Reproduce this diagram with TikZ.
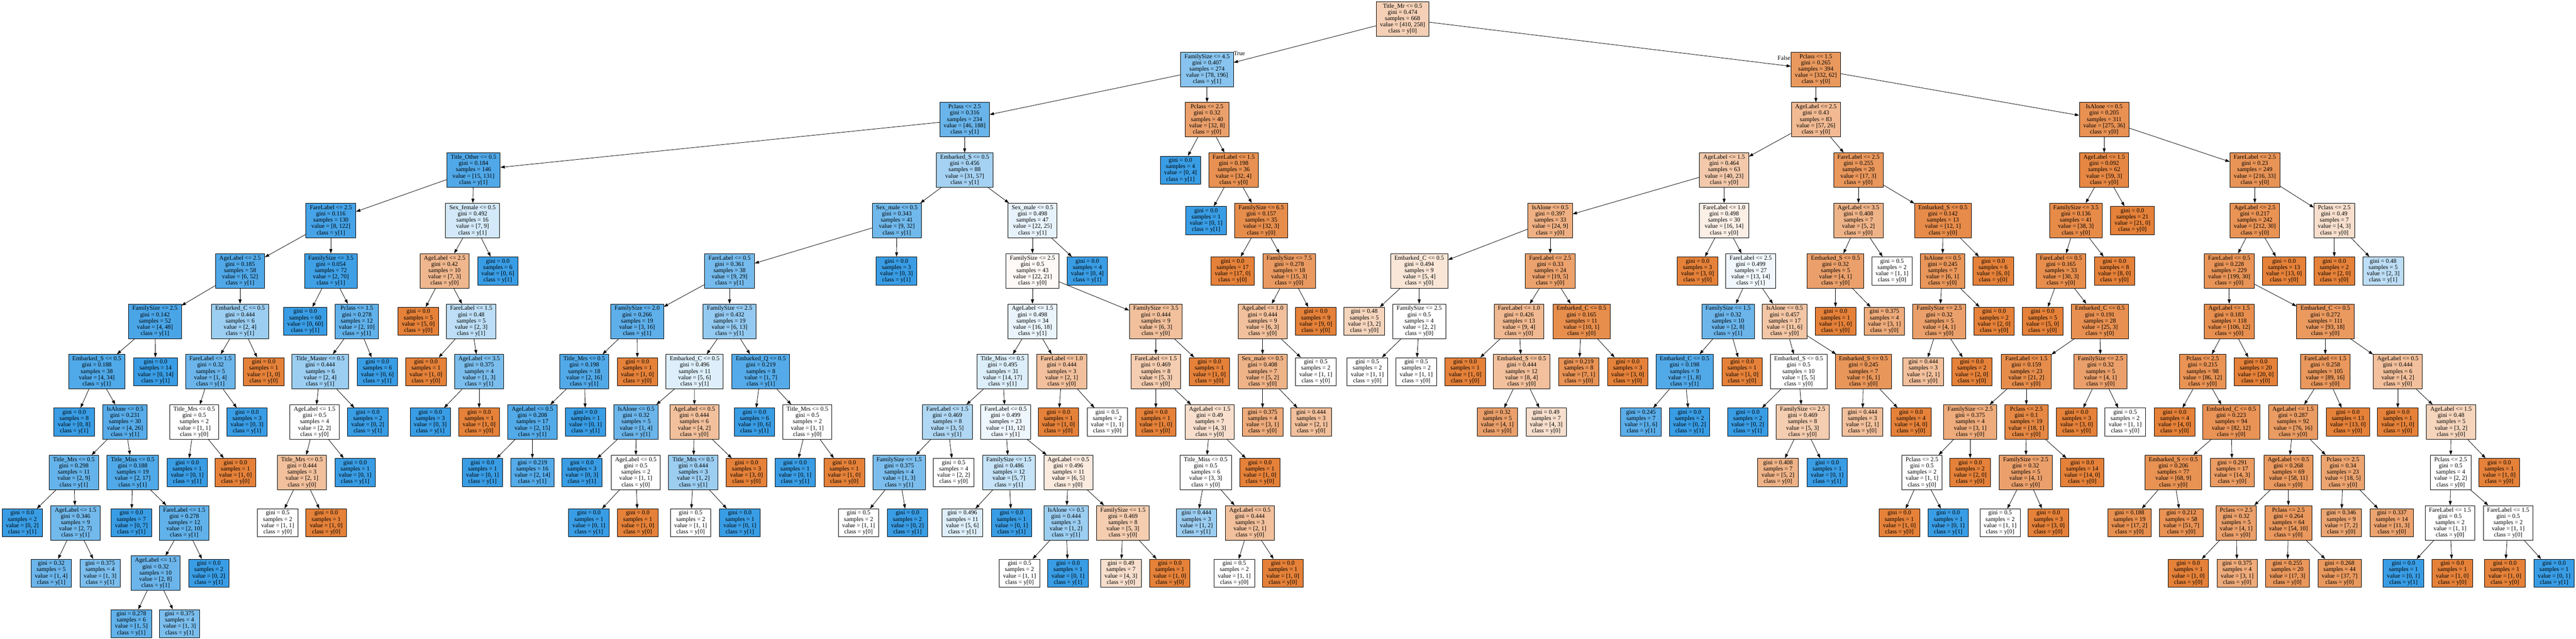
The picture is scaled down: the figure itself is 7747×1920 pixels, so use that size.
\documentclass[tikz,border=0pt]{standalone}
\usepackage{fontspec}
\setmainfont{Liberation Serif}
\usepackage{tikz}
\usetikzlibrary{arrows.meta}
\usepackage{xcolor}
\definecolor{leftcls}{RGB}{229,129,57}
\definecolor{rightcls}{RGB}{57,157,229}

\newcommand{\dtfont}{\fontsize{5.2pt}{5.37pt}\selectfont}
\tikzset{
  dtbox/.style={draw=black, line width=0.35pt, rectangle, align=center, font=\dtfont, inner xsep=0.115cm, inner ysep=1.65pt},
  dtedge/.style={line width=0.35pt, -{Triangle[length=0.13cm, width=0.09cm]}},
  dtlbl/.style={font=\dtfont, inner sep=0pt}
}
% name, parent, x, level, split line, gini, value y[0], value y[1]
\newcommand{\dtnode}[8]{%
  \ifnum#7<#8\relax
    \pgfmathsetmacro\dtshade{100*(1-#7/#8)}\def\dtcls{1}\def\dtcol{rightcls}%
  \else
    \pgfmathsetmacro\dtshade{100*(1-#8/#7)}\def\dtcls{0}\def\dtcol{leftcls}%
  \fi
  \node[dtbox, fill=\dtcol!\dtshade!white] (#1) at (#3,{57+151.5*#4})
    {#5gini = #6\\samples = \the\numexpr#7+#8\relax\\value = [#7, #8]\\class = y[\dtcls]};
  \if\relax\detokenize{#2}\relax\else\draw[dtedge] (#2) -- (#1);\fi
}

\begin{document}
\begin{tikzpicture}[x=0.01cm, y=-0.01cm]
\useasboundingbox (0,0) rectangle (7747,1920);
\fill[white] (0,0) rectangle (7747,1920);

% Root
\dtnode{N}{}{4218}{0}{Title\_Mr <= 0.5\\}{0.474}{410}{258}
\node[dtlbl] (lblTrue) at (3727,161) {True};
\node[dtlbl] (lblFalse) at (5365,175) {False};

% True branch
\dtnode{NL}{N}{3630}{1}{FamilySize <= 4.5\\}{0.407}{78}{196}
\dtnode{NLL}{NL}{2901}{2}{Pclass <= 2.5\\}{0.316}{46}{188}
\dtnode{NLR}{NL}{3630}{2}{Pclass <= 2.5\\}{0.32}{32}{8}

% Title_Other subtree
\dtnode{NLLL}{NLL}{1424}{3}{Title\_Other <= 0.5\\}{0.184}{15}{131}
\dtnode{NLLLL}{NLLL}{995}{4}{FareLabel <= 2.5\\}{0.116}{8}{122}
\dtnode{NLLLR}{NLLL}{1421}{4}{Sex\_female <= 0.5\\}{0.492}{7}{9}
\dtnode{NLLLLL}{NLLLL}{722}{5}{AgeLabel <= 2.5\\}{0.185}{6}{52}
\dtnode{NLLLLR}{NLLLL}{995}{5}{FamilySize <= 3.5\\}{0.054}{2}{70}
\dtnode{NLLLRL}{NLLLR}{1337}{5}{AgeLabel <= 2.5\\}{0.42}{7}{3}
\dtnode{NLLLRR}{NLLLR}{1497}{5}{}{0.0}{0}{6}
\dtnode{NLLLLLL}{NLLLLL}{466}{6}{FamilySize <= 2.5\\}{0.142}{4}{48}
\dtnode{NLLLLLR}{NLLLLL}{722}{6}{Embarked\_C <= 0.5\\}{0.444}{2}{4}
\dtnode{NLLLLRL}{NLLLLR}{918}{6}{}{0.0}{0}{60}
\dtnode{NLLLLRR}{NLLLLR}{1073}{6}{Pclass <= 1.5\\}{0.278}{2}{10}
\dtnode{NLLLRLL}{NLLLRL}{1258}{6}{}{0.0}{5}{0}
\dtnode{NLLLRLR}{NLLLRL}{1417}{6}{FareLabel <= 1.5\\}{0.48}{2}{3}
\dtnode{NLLLLLLL}{NLLLLLL}{291}{7}{Embarked\_S <= 0.5\\}{0.188}{4}{34}
\dtnode{NLLLLLLR}{NLLLLLL}{468}{7}{}{0.0}{0}{14}
\dtnode{NLLLLLRL}{NLLLLLR}{633}{7}{FareLabel <= 1.5\\}{0.32}{1}{4}
\dtnode{NLLLLLRR}{NLLLLLR}{793}{7}{}{0.0}{1}{0}
\dtnode{NLLLLRRL}{NLLLLRR}{963}{7}{Title\_Master <= 0.5\\}{0.444}{2}{4}
\dtnode{NLLLLRRR}{NLLLLRR}{1135}{7}{}{0.0}{0}{6}
\dtnode{NLLLRLRL}{NLLLRLR}{1281}{7}{}{0.0}{1}{0}
\dtnode{NLLLRLRR}{NLLLRLR}{1441}{7}{AgeLabel <= 3.5\\}{0.375}{1}{3}
\dtnode{NLLLLLLLL}{NLLLLLLL}{223}{8}{}{0.0}{0}{8}
\dtnode{NLLLLLLLR}{NLLLLLLL}{376}{8}{IsAlone <= 0.5\\}{0.231}{4}{26}
\dtnode{NLLLLLRLL}{NLLLLLRL}{584}{8}{Title\_Mrs <= 0.5\\}{0.5}{1}{1}
\dtnode{NLLLLLRLR}{NLLLLLRL}{743}{8}{}{0.0}{0}{3}
\dtnode{NLLLLRRLL}{NLLLLRRL}{946}{8}{AgeLabel <= 1.5\\}{0.5}{2}{2}
\dtnode{NLLLLRRLR}{NLLLLRRL}{1106}{8}{}{0.0}{0}{2}
\dtnode{NLLLRLRRL}{NLLLRLRR}{1294}{8}{}{0.0}{0}{3}
\dtnode{NLLLRLRRR}{NLLLRLRR}{1441}{8}{}{0.0}{1}{0}
\dtnode{NLLLLLLLRL}{NLLLLLLLR}{222}{9}{Title\_Mrs <= 0.5\\}{0.298}{2}{9}
\dtnode{NLLLLLLLRR}{NLLLLLLLR}{399}{9}{Title\_Miss <= 0.5\\}{0.188}{2}{17}
\dtnode{NLLLLLRLLL}{NLLLLLRLL}{563}{9}{}{0.0}{0}{1}
\dtnode{NLLLLLRLLR}{NLLLLLRLL}{708}{9}{}{0.0}{1}{0}
\dtnode{NLLLLRRLLL}{NLLLLRRLL}{908}{9}{Title\_Mrs <= 0.5\\}{0.444}{2}{1}
\dtnode{NLLLLRRLLR}{NLLLLRRLL}{1068}{9}{}{0.0}{0}{1}
\dtnode{NLLLLLLLRLL}{NLLLLLLLRL}{67}{10}{}{0.0}{0}{2}
\dtnode{NLLLLLLLRLR}{NLLLLLLLRL}{227}{10}{AgeLabel <= 1.5\\}{0.346}{2}{7}
\dtnode{NLLLLLLLRRL}{NLLLLLLLRR}{395}{10}{}{0.0}{0}{7}
\dtnode{NLLLLLLLRRR}{NLLLLLLLRR}{554}{10}{FareLabel <= 1.5\\}{0.278}{2}{10}
\dtnode{NLLLLRRLLLL}{NLLLLRRLLL}{835}{10}{}{0.5}{1}{1}
\dtnode{NLLLLRRLLLR}{NLLLLRRLLL}{981}{10}{}{0.0}{1}{0}
\dtnode{NLLLLLLLRLRL}{NLLLLLLLRLR}{154}{11}{}{0.32}{1}{4}
\dtnode{NLLLLLLLRLRR}{NLLLLLLLRLR}{301}{11}{}{0.375}{1}{3}
\dtnode{NLLLLLLLRRRL}{NLLLLLLLRRR}{468}{11}{AgeLabel <= 1.5\\}{0.32}{2}{8}
\dtnode{NLLLLLLLRRRR}{NLLLLLLLRRR}{628}{11}{}{0.0}{0}{2}
\dtnode{NLLLLLLLRRRLL}{NLLLLLLLRRRL}{395}{12}{}{0.278}{1}{5}
\dtnode{NLLLLLLLRRRLR}{NLLLLLLLRRRL}{540}{12}{}{0.375}{1}{3}

% Embarked_S subtree
\dtnode{NLLR}{NLL}{2901}{3}{Embarked\_S <= 0.5\\}{0.456}{31}{57}
\dtnode{NLLRL}{NLLR}{2697}{4}{Sex\_male <= 0.5\\}{0.343}{9}{32}
\dtnode{NLLRR}{NLLR}{3105}{4}{Sex\_male <= 0.5\\}{0.498}{22}{25}
\dtnode{NLLRLL}{NLLRL}{2194}{5}{FareLabel <= 0.5\\}{0.361}{9}{29}
\dtnode{NLLRLR}{NLLRL}{2696}{5}{}{0.0}{0}{3}
\dtnode{NLLRLLL}{NLLRLL}{1916}{6}{FamilySize <= 2.0\\}{0.266}{3}{16}
\dtnode{NLLRLLR}{NLLRLL}{2194}{6}{FamilySize <= 2.5\\}{0.432}{6}{13}
\dtnode{NLLRLLLL}{NLLRLLL}{1757}{7}{Title\_Mrs <= 0.5\\}{0.198}{2}{16}
\dtnode{NLLRLLLR}{NLLRLLL}{1917}{7}{}{0.0}{1}{0}
\dtnode{NLLRLLRL}{NLLRLLR}{2089}{7}{Embarked\_C <= 0.5\\}{0.496}{5}{6}
\dtnode{NLLRLLRR}{NLLRLLR}{2288}{7}{Embarked\_Q <= 0.5\\}{0.219}{1}{7}
\dtnode{NLLRLLLLL}{NLLRLLLL}{1601}{8}{AgeLabel <= 0.5\\}{0.208}{2}{15}
\dtnode{NLLRLLLLR}{NLLRLLLL}{1761}{8}{}{0.0}{0}{1}
\dtnode{NLLRLLRLL}{NLLRLLRL}{1913}{8}{IsAlone <= 0.5\\}{0.32}{1}{4}
\dtnode{NLLRLLRLR}{NLLRLLRL}{2088}{8}{AgeLabel <= 0.5\\}{0.444}{4}{2}
\dtnode{NLLRLLRRL}{NLLRLLRR}{2269}{8}{}{0.0}{0}{6}
\dtnode{NLLRLLRRR}{NLLRLLRR}{2428}{8}{Title\_Mrs <= 0.5\\}{0.5}{1}{1}
\dtnode{NLLRLLLLLL}{NLLRLLLLL}{1451}{9}{}{0.0}{0}{1}
\dtnode{NLLRLLLLLR}{NLLRLLLLL}{1601}{9}{}{0.219}{2}{14}
\dtnode{NLLRLLRLLL}{NLLRLLRLL}{1750}{9}{}{0.0}{0}{3}
\dtnode{NLLRLLRLLR}{NLLRLLRLL}{1912}{9}{AgeLabel <= 0.5\\}{0.5}{1}{1}
\dtnode{NLLRLLRLRL}{NLLRLLRLR}{2085}{9}{Title\_Mrs <= 0.5\\}{0.444}{1}{2}
\dtnode{NLLRLLRLRR}{NLLRLLRLR}{2245}{9}{}{0.0}{3}{0}
\dtnode{NLLRLLRRRL}{NLLRLLRRR}{2391}{9}{}{0.0}{0}{1}
\dtnode{NLLRLLRRRR}{NLLRLLRRR}{2539}{9}{}{0.0}{1}{0}
\dtnode{NLLRLLRLLRL}{NLLRLLRLLR}{1771}{10}{}{0.0}{0}{1}
\dtnode{NLLRLLRLLRR}{NLLRLLRLLR}{1918}{10}{}{0.0}{1}{0}
\dtnode{NLLRLLRLRLL}{NLLRLLRLRL}{2077}{10}{}{0.5}{1}{1}
\dtnode{NLLRLLRLRLR}{NLLRLLRLRL}{2225}{10}{}{0.0}{0}{1}
\dtnode{NLLRRL}{NLLRR}{3105}{5}{FamilySize <= 2.5\\}{0.5}{22}{21}
\dtnode{NLLRRR}{NLLRR}{3270}{5}{}{0.0}{0}{4}
\dtnode{NLLRRLL}{NLLRRL}{3105}{6}{AgeLabel <= 1.5\\}{0.498}{16}{18}
\dtnode{NLLRRLR}{NLLRRL}{3476}{6}{FamilySize <= 3.5\\}{0.444}{6}{3}
\dtnode{NLLRRLLL}{NLLRRLL}{3015}{7}{Title\_Miss <= 0.5\\}{0.495}{14}{17}
\dtnode{NLLRRLLR}{NLLRRLL}{3193}{7}{FareLabel <= 1.0\\}{0.444}{2}{1}
\dtnode{NLLRRLRL}{NLLRRLR}{3476}{7}{FareLabel <= 1.5\\}{0.469}{5}{3}
\dtnode{NLLRRLRR}{NLLRRLR}{3637}{7}{}{0.0}{1}{0}
\dtnode{NLLRRLLLL}{NLLRRLLL}{2849}{8}{FareLabel <= 1.5\\}{0.469}{3}{5}
\dtnode{NLLRRLLLR}{NLLRRLLL}{3024}{8}{FareLabel <= 0.5\\}{0.499}{11}{12}
\dtnode{NLLRRLLRL}{NLLRRLLR}{3183}{8}{}{0.0}{1}{0}
\dtnode{NLLRRLLRR}{NLLRRLLR}{3330}{8}{}{0.5}{1}{1}
\dtnode{NLLRRLRLL}{NLLRRLRL}{3476}{8}{}{0.0}{1}{0}
\dtnode{NLLRRLRLR}{NLLRRLRL}{3638}{8}{AgeLabel <= 1.5\\}{0.49}{4}{3}
\dtnode{NLLRRLLLLL}{NLLRRLLLL}{2704}{9}{FamilySize <= 1.5\\}{0.375}{1}{3}
\dtnode{NLLRRLLLLR}{NLLRRLLLL}{2868}{9}{}{0.5}{2}{2}
\dtnode{NLLRRLLLRL}{NLLRRLLLR}{3034}{9}{FamilySize <= 1.5\\}{0.486}{5}{7}
\dtnode{NLLRRLLLRR}{NLLRRLLLR}{3213}{9}{AgeLabel <= 0.5\\}{0.496}{6}{5}
\dtnode{NLLRRLRLRL}{NLLRRLRLR}{3626}{9}{Title\_Miss <= 0.5\\}{0.5}{3}{3}
\dtnode{NLLRRLRLRR}{NLLRRLRLR}{3789}{9}{}{0.0}{1}{0}
\dtnode{NLLRRLLLLLL}{NLLRRLLLLL}{2582}{10}{}{0.5}{1}{1}
\dtnode{NLLRRLLLLLR}{NLLRRLLLLL}{2729}{10}{}{0.0}{0}{2}
\dtnode{NLLRRLLLRLL}{NLLRRLLLRL}{2894}{10}{}{0.496}{5}{6}
\dtnode{NLLRRLLLRLR}{NLLRRLLLRL}{3042}{10}{}{0.0}{0}{1}
\dtnode{NLLRRLLLRRL}{NLLRRLLLRR}{3206}{10}{IsAlone <= 0.5\\}{0.444}{1}{2}
\dtnode{NLLRRLLLRRR}{NLLRRLLLRR}{3377}{10}{FamilySize <= 1.5\\}{0.469}{5}{3}
\dtnode{NLLRRLRLRLL}{NLLRRLRLRL}{3598}{10}{}{0.444}{1}{2}
\dtnode{NLLRRLRLRLR}{NLLRRLRLRL}{3759}{10}{AgeLabel <= 0.5\\}{0.444}{2}{1}
\dtnode{NLLRRLLLRRLL}{NLLRRLLLRRL}{3066}{11}{}{0.5}{1}{1}
\dtnode{NLLRRLLLRRLR}{NLLRRLLLRRL}{3212}{11}{}{0.0}{0}{1}
\dtnode{NLLRRLLLRRRL}{NLLRRLLLRRR}{3371}{11}{}{0.49}{4}{3}
\dtnode{NLLRRLLLRRRR}{NLLRRLLLRRR}{3518}{11}{}{0.0}{1}{0}
\dtnode{NLLRRLRLRLRL}{NLLRRLRLRLR}{3712}{11}{}{0.5}{1}{1}
\dtnode{NLLRRLRLRLRR}{NLLRRLRLRLR}{3858}{11}{}{0.0}{1}{0}

% Pclass (40) subtree
\dtnode{NLRL}{NLR}{3550}{3}{}{0.0}{0}{4}
\dtnode{NLRR}{NLR}{3710}{3}{FareLabel <= 1.5\\}{0.198}{32}{4}
\dtnode{NLRRL}{NLRR}{3627}{4}{}{0.0}{0}{1}
\dtnode{NLRRR}{NLRR}{3793}{4}{FamilySize <= 6.5\\}{0.157}{32}{3}
\dtnode{NLRRRL}{NLRRR}{3707}{5}{}{0.0}{17}{0}
\dtnode{NLRRRR}{NLRRR}{3877}{5}{FamilySize <= 7.5\\}{0.278}{15}{3}
\dtnode{NLRRRRL}{NLRRRR}{3797}{6}{AgeLabel <= 1.0\\}{0.444}{6}{3}
\dtnode{NLRRRRR}{NLRRRR}{3957}{6}{}{0.0}{9}{0}
\dtnode{NLRRRRLL}{NLRRRRL}{3797}{7}{Sex\_male <= 0.5\\}{0.408}{5}{2}
\dtnode{NLRRRRLR}{NLRRRRL}{3957}{7}{}{0.5}{1}{1}
\dtnode{NLRRRRLLL}{NLRRRRLL}{3797}{8}{}{0.375}{3}{1}
\dtnode{NLRRRRLLR}{NLRRRRLL}{3943}{8}{}{0.444}{2}{1}

% False branch
\dtnode{NR}{N}{5461}{1}{Pclass <= 1.5\\}{0.265}{332}{62}
\dtnode{NRL}{NR}{5461}{2}{AgeLabel <= 2.5\\}{0.43}{57}{26}
\dtnode{NRR}{NR}{6328}{2}{IsAlone <= 0.5\\}{0.205}{275}{36}

% AgeLabel (83) subtree
\dtnode{NRLL}{NRL}{5185}{3}{AgeLabel <= 1.5\\}{0.464}{40}{23}
\dtnode{NRLR}{NRL}{5589}{3}{FareLabel <= 2.5\\}{0.255}{17}{3}
\dtnode{NRLLL}{NRLL}{4662}{4}{IsAlone <= 0.5\\}{0.397}{24}{9}
\dtnode{NRLLR}{NRLL}{5185}{4}{FareLabel <= 1.0\\}{0.498}{16}{14}
\dtnode{NRLRL}{NRLR}{5589}{4}{AgeLabel <= 3.5\\}{0.408}{5}{2}
\dtnode{NRLRR}{NRLR}{5843}{4}{Embarked\_S <= 0.5\\}{0.142}{12}{1}
\dtnode{NRLLLL}{NRLLL}{4268}{5}{Embarked\_C <= 0.5\\}{0.494}{5}{4}
\dtnode{NRLLLR}{NRLLL}{4662}{5}{FareLabel <= 2.5\\}{0.33}{19}{5}
\dtnode{NRLLRL}{NRLLR}{5105}{5}{}{0.0}{3}{0}
\dtnode{NRLLRR}{NRLLR}{5265}{5}{FareLabel <= 2.5\\}{0.499}{13}{14}
\dtnode{NRLRLL}{NRLRL}{5520}{5}{Embarked\_S <= 0.5\\}{0.32}{4}{1}
\dtnode{NRLRLR}{NRLRL}{5690}{5}{}{0.5}{1}{1}
\dtnode{NRLRRL}{NRLRR}{5842}{5}{IsAlone <= 0.5\\}{0.245}{6}{1}
\dtnode{NRLRRR}{NRLRR}{5994}{5}{}{0.0}{6}{0}
\dtnode{NRLLLLL}{NRLLLL}{4103}{6}{}{0.48}{3}{2}
\dtnode{NRLLLLR}{NRLLLL}{4268}{6}{FamilySize <= 2.5\\}{0.5}{2}{2}
\dtnode{NRLLLRL}{NRLLLR}{4568}{6}{FareLabel <= 1.0\\}{0.426}{9}{4}
\dtnode{NRLLLRR}{NRLLLR}{4756}{6}{Embarked\_C <= 0.5\\}{0.165}{10}{1}
\dtnode{NRLLRRL}{NRLLRR}{5197}{6}{FamilySize <= 1.5\\}{0.32}{2}{8}
\dtnode{NRLLRRR}{NRLLRR}{5367}{6}{IsAlone <= 0.5\\}{0.457}{11}{6}
\dtnode{NRLRLLL}{NRLRLL}{5520}{6}{}{0.0}{1}{0}
\dtnode{NRLRLLR}{NRLRLL}{5667}{6}{}{0.375}{3}{1}
\dtnode{NRLRRLL}{NRLRRL}{5832}{6}{FamilySize <= 2.5\\}{0.32}{4}{1}
\dtnode{NRLRRLR}{NRLRRL}{5997}{6}{}{0.0}{2}{0}
\dtnode{NRLLLLRL}{NRLLLLR}{4112}{7}{}{0.5}{1}{1}
\dtnode{NRLLLLRR}{NRLLLLR}{4259}{7}{}{0.5}{1}{1}
\dtnode{NRLLLRLL}{NRLLLRL}{4406}{7}{}{0.0}{1}{0}
\dtnode{NRLLLRLR}{NRLLLRL}{4576}{7}{Embarked\_S <= 0.5\\}{0.444}{8}{4}
\dtnode{NRLLLRRL}{NRLLLRR}{4748}{7}{}{0.219}{7}{1}
\dtnode{NRLLLRRR}{NRLLLRR}{4895}{7}{}{0.0}{3}{0}
\dtnode{NRLLRRLL}{NRLLRRL}{5066}{7}{Embarked\_C <= 0.5\\}{0.198}{1}{8}
\dtnode{NRLLRRLR}{NRLLRRL}{5239}{7}{}{0.0}{1}{0}
\dtnode{NRLLRRRL}{NRLLRRR}{5409}{7}{Embarked\_S <= 0.5\\}{0.5}{5}{5}
\dtnode{NRLLRRRR}{NRLLRRR}{5604}{7}{Embarked\_S <= 0.5\\}{0.245}{6}{1}
\dtnode{NRLRRLLL}{NRLRRLL}{5784}{7}{}{0.444}{2}{1}
\dtnode{NRLRRLLR}{NRLRRLL}{5930}{7}{}{0.0}{2}{0}
\dtnode{NRLLLRLRL}{NRLLLRLR}{4503}{8}{}{0.32}{4}{1}
\dtnode{NRLLLRLRR}{NRLLLRLR}{4650}{8}{}{0.49}{4}{3}
\dtnode{NRLLRRLLL}{NRLLRRLL}{4935}{8}{}{0.245}{1}{6}
\dtnode{NRLLRRLLR}{NRLLRRLL}{5081}{8}{}{0.0}{0}{2}
\dtnode{NRLLRRRLL}{NRLLRRRL}{5256}{8}{}{0.0}{0}{2}
\dtnode{NRLLRRRLR}{NRLLRRRL}{5421}{8}{FamilySize <= 2.5\\}{0.469}{5}{3}
\dtnode{NRLLRRRRL}{NRLLRRRR}{5601}{8}{}{0.444}{2}{1}
\dtnode{NRLLRRRRR}{NRLLRRRR}{5747}{8}{}{0.0}{4}{0}
\dtnode{NRLLRRRLRL}{NRLLRRRLR}{5347}{9}{}{0.408}{5}{2}
\dtnode{NRLLRRRLRR}{NRLLRRRLR}{5495}{9}{}{0.0}{0}{1}

% IsAlone (311) subtree
\dtnode{NRRL}{NRR}{6328}{3}{AgeLabel <= 1.5\\}{0.092}{59}{3}
\dtnode{NRRR}{NRR}{6781}{3}{FareLabel <= 2.5\\}{0.23}{216}{33}
\dtnode{NRRLL}{NRRL}{6243}{4}{FamilySize <= 3.5\\}{0.136}{38}{3}
\dtnode{NRRLR}{NRRL}{6413}{4}{}{0.0}{21}{0}
\dtnode{NRRRL}{NRRR}{6781}{4}{AgeLabel <= 2.5\\}{0.217}{212}{30}
\dtnode{NRRRR}{NRRR}{7020}{4}{Pclass <= 2.5\\}{0.49}{4}{3}
\dtnode{NRRLLL}{NRRLL}{6198}{5}{FareLabel <= 0.5\\}{0.165}{30}{3}
\dtnode{NRRLLR}{NRRLL}{6359}{5}{}{0.0}{8}{0}
\dtnode{NRRRLL}{NRRRL}{6704}{5}{FareLabel <= 0.5\\}{0.228}{199}{30}
\dtnode{NRRRLR}{NRRRL}{6869}{5}{}{0.0}{13}{0}
\dtnode{NRRRRL}{NRRRR}{7020}{5}{}{0.0}{2}{0}
\dtnode{NRRRRR}{NRRRR}{7167}{5}{}{0.48}{2}{3}
\dtnode{NRRLLLL}{NRRLLL}{6143}{6}{}{0.0}{5}{0}
\dtnode{NRRLLLR}{NRRLLL}{6315}{6}{Embarked\_C <= 0.5\\}{0.191}{25}{3}
\dtnode{NRRRLLL}{NRRRLL}{6704}{6}{AgeLabel <= 1.5\\}{0.183}{106}{12}
\dtnode{NRRRLLR}{NRRRLL}{6993}{6}{Embarked\_C <= 0.5\\}{0.272}{93}{18}
\dtnode{NRRLLLRL}{NRRLLLR}{6094}{7}{FareLabel <= 1.5\\}{0.159}{21}{2}
\dtnode{NRRLLLRR}{NRRLLLR}{6317}{7}{FamilySize <= 2.5\\}{0.32}{4}{1}
\dtnode{NRRRLLLL}{NRRRLLL}{6624}{7}{Pclass <= 2.5\\}{0.215}{86}{12}
\dtnode{NRRRLLLR}{NRRRLLL}{6784}{7}{}{0.0}{20}{0}
\dtnode{NRRRLLRL}{NRRRLLR}{6993}{7}{FareLabel <= 1.5\\}{0.258}{89}{16}
\dtnode{NRRRLLRR}{NRRRLLR}{7211}{7}{AgeLabel <= 0.5\\}{0.444}{4}{2}
\dtnode{NRRLLLRLL}{NRRLLLRL}{5925}{8}{FamilySize <= 2.5\\}{0.375}{3}{1}
\dtnode{NRRLLLRLR}{NRRLLLRL}{6094}{8}{Pclass <= 2.5\\}{0.1}{18}{1}
\dtnode{NRRLLLRRL}{NRRLLLRR}{6245}{8}{}{0.0}{3}{0}
\dtnode{NRRLLLRRR}{NRRLLLRR}{6391}{8}{}{0.5}{1}{1}
\dtnode{NRRRLLLLL}{NRRRLLLL}{6540}{8}{}{0.0}{4}{0}
\dtnode{NRRRLLLLR}{NRRRLLLL}{6710}{8}{Embarked\_C <= 0.5\\}{0.223}{82}{12}
\dtnode{NRRRLLRLL}{NRRRLLRL}{6896}{8}{AgeLabel <= 1.5\\}{0.287}{76}{16}
\dtnode{NRRRLLRLR}{NRRRLLRL}{7061}{8}{}{0.0}{13}{0}
\dtnode{NRRRLLRRL}{NRRRLLRR}{7211}{8}{}{0.0}{1}{0}
\dtnode{NRRRLLRRR}{NRRRLLRR}{7371}{8}{AgeLabel <= 1.5\\}{0.48}{3}{2}
\dtnode{NRRLLLRLLL}{NRRLLLRLL}{5780}{9}{Pclass <= 2.5\\}{0.5}{1}{1}
\dtnode{NRRLLLRLLR}{NRRLLLRLL}{5925}{9}{}{0.0}{2}{0}
\dtnode{NRRLLLRLRL}{NRRLLLRLR}{6092}{9}{FamilySize <= 2.5\\}{0.32}{4}{1}
\dtnode{NRRLLLRLRR}{NRRLLLRLR}{6262}{9}{}{0.0}{14}{0}
\dtnode{NRRRLLLLRL}{NRRRLLLLR}{6536}{9}{Embarked\_S <= 0.5\\}{0.206}{68}{9}
\dtnode{NRRRLLLLRR}{NRRRLLLLR}{6713}{9}{}{0.291}{14}{3}
\dtnode{NRRRLLRLLL}{NRRRLLRLL}{6882}{9}{AgeLabel <= 0.5\\}{0.268}{58}{11}
\dtnode{NRRRLLRLLR}{NRRRLLRLL}{7046}{9}{Pclass <= 2.5\\}{0.34}{18}{5}
\dtnode{NRRRLLRRRL}{NRRRLLRRR}{7370}{9}{Pclass <= 2.5\\}{0.5}{2}{2}
\dtnode{NRRRLLRRRR}{NRRRLLRRR}{7516}{9}{}{0.0}{1}{0}
\dtnode{NRRLLLRLLLL}{NRRLLLRLLL}{5712}{10}{}{0.0}{1}{0}
\dtnode{NRRLLLRLLLR}{NRRLLLRLLL}{5859}{10}{}{0.0}{0}{1}
\dtnode{NRRLLLRLRLL}{NRRLLLRLRL}{6015}{10}{}{0.5}{1}{1}
\dtnode{NRRLLLRLRLR}{NRRLLLRLRL}{6160}{10}{}{0.0}{3}{0}
\dtnode{NRRRLLLLRLL}{NRRRLLLLRL}{6404}{10}{}{0.188}{17}{2}
\dtnode{NRRRLLLLRLR}{NRRRLLLLRL}{6560}{10}{}{0.212}{51}{7}
\dtnode{NRRRLLRLLLL}{NRRRLLRLLL}{6725}{10}{Pclass <= 2.5\\}{0.32}{4}{1}
\dtnode{NRRRLLRLLLR}{NRRRLLRLLL}{6882}{10}{Pclass <= 2.5\\}{0.264}{54}{10}
\dtnode{NRRRLLRLLRL}{NRRRLLRLLR}{7041}{10}{}{0.346}{7}{2}
\dtnode{NRRRLLRLLRR}{NRRRLLRLLR}{7193}{10}{}{0.337}{11}{3}
\dtnode{NRRRLLRRRLL}{NRRRLLRRRL}{7368}{10}{FareLabel <= 1.5\\}{0.5}{1}{1}
\dtnode{NRRRLLRRRLR}{NRRRLLRRRL}{7543}{10}{FareLabel <= 1.5\\}{0.5}{1}{1}
\dtnode{NRRRLLRLLLLL}{NRRRLLRLLLL}{6581}{11}{}{0.0}{1}{0}
\dtnode{NRRRLLRLLLLR}{NRRRLLRLLLL}{6728}{11}{}{0.375}{3}{1}
\dtnode{NRRRLLRLLLRL}{NRRRLLRLLLR}{6879}{11}{}{0.255}{17}{3}
\dtnode{NRRRLLRLLLRR}{NRRRLLRLLLR}{7036}{11}{}{0.268}{37}{7}
\dtnode{NRRRLLRRRLLL}{NRRRLLRRRLL}{7228}{11}{}{0.0}{0}{1}
\dtnode{NRRRLLRRRLLR}{NRRRLLRRRLL}{7375}{11}{}{0.0}{1}{0}
\dtnode{NRRRLLRRRLRL}{NRRRLLRRRLR}{7533}{11}{}{0.0}{1}{0}
\dtnode{NRRRLLRRRLRR}{NRRRLLRRRLR}{7681}{11}{}{0.0}{0}{1}
\end{tikzpicture}
\end{document}
